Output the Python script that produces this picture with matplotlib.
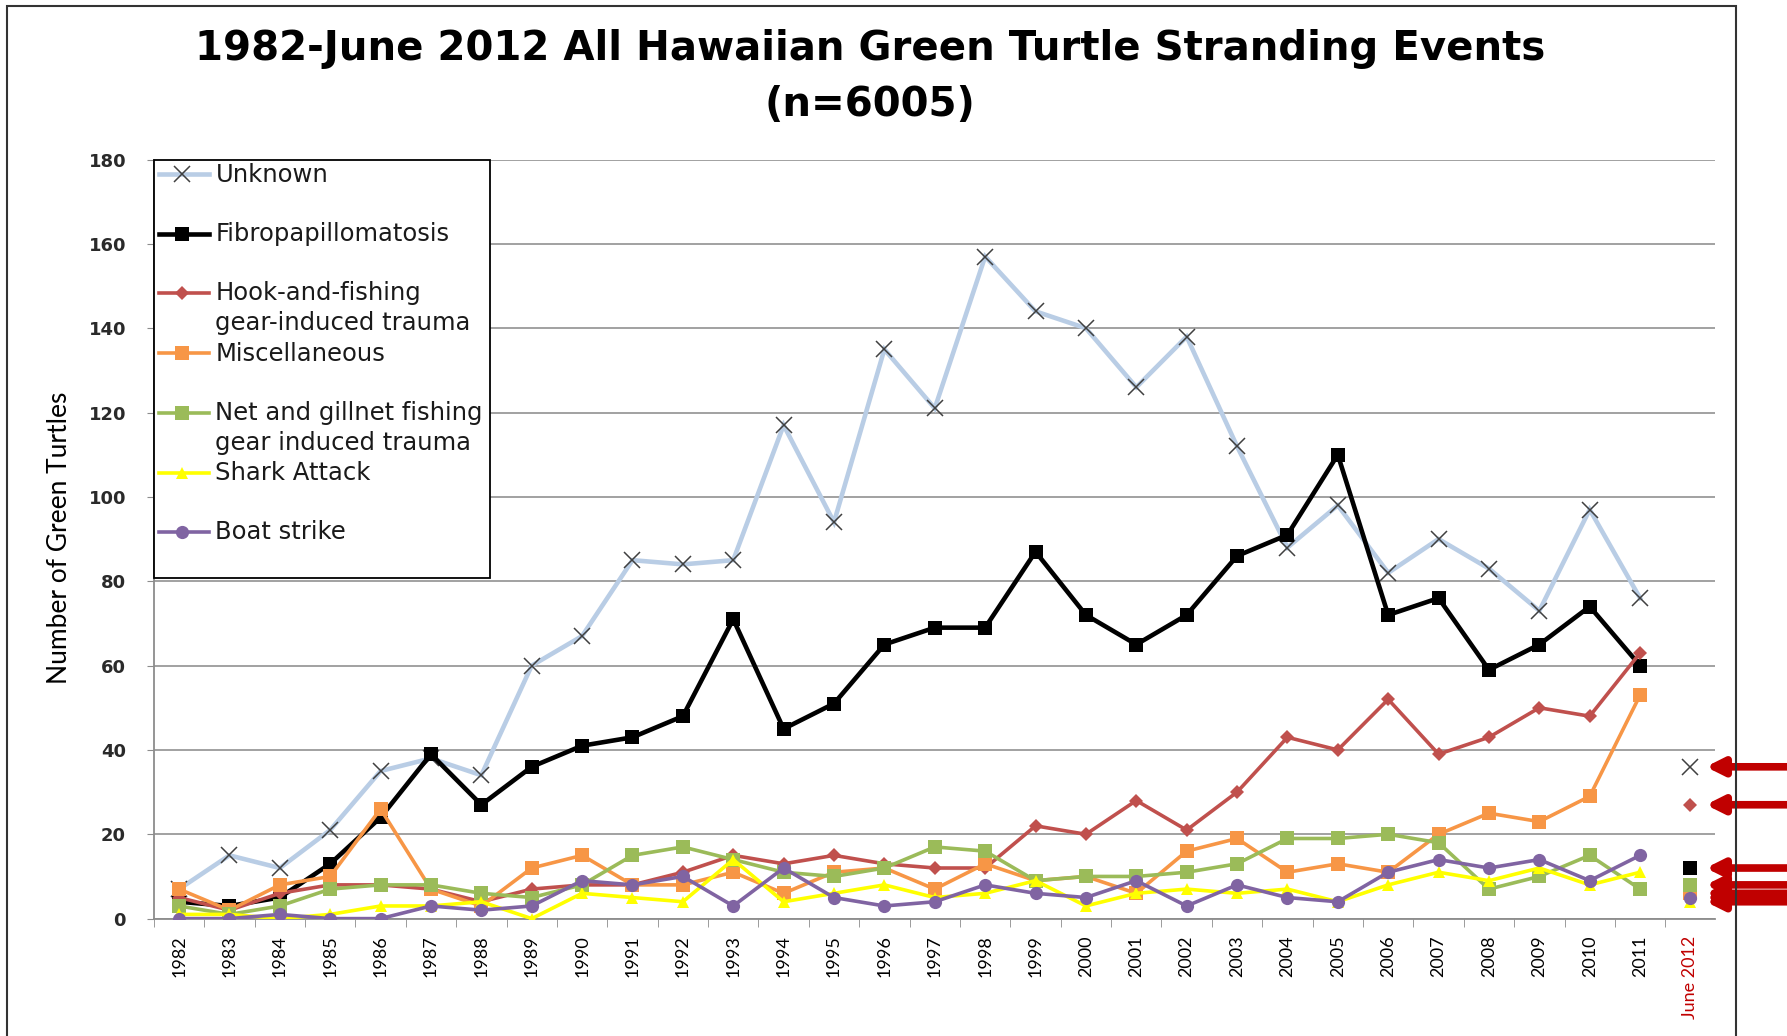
import matplotlib
matplotlib.use("Agg")
import matplotlib.pyplot as plt
from matplotlib.patches import Rectangle
from matplotlib.lines import Line2D

years = [str(y) for y in range(1982, 2012)] + ["June 2012"]

unknown = [7, 15, 12, 21, 35, 38, 34, 60, 67, 85, 84, 85, 117, 94, 135, 121, 157, 144,
           140, 126, 138, 112, 88, 98, 82, 90, 83, 73, 97, 76]
fibro = [4, 3, 5, 13, 24, 39, 27, 36, 41, 43, 48, 71, 45, 51, 65, 69, 69, 87,
         72, 65, 72, 86, 91, 110, 72, 76, 59, 65, 74, 60]
hook = [5, 2, 6, 8, 8, 7, 4, 7, 8, 8, 11, 15, 13, 15, 13, 12, 12, 22,
        20, 28, 21, 30, 43, 40, 52, 39, 43, 50, 48, 63]
misc = [7, 2, 8, 10, 26, 7, 3, 12, 15, 8, 8, 11, 6, 11, 12, 7, 13, 9,
        10, 6, 16, 19, 11, 13, 11, 20, 25, 23, 29, 53]
net = [3, 1, 3, 7, 8, 8, 6, 5, 8, 15, 17, 14, 11, 10, 12, 17, 16, 9,
       10, 10, 11, 13, 19, 19, 20, 18, 7, 10, 15, 7]
shark = [1, 1, 0, 1, 3, 3, 4, 0, 6, 5, 4, 14, 4, 6, 8, 5, 6, 9,
         3, 6, 7, 6, 7, 4, 8, 11, 9, 12, 8, 11]
boat = [0, 0, 1, 0, 0, 3, 2, 3, 9, 8, 10, 3, 12, 5, 3, 4, 8, 6,
        5, 9, 3, 8, 5, 4, 11, 14, 12, 14, 9, 15]

# June 2012 (partial year) values
june2012 = {"unknown": 36, "fibro": 12, "hook": 27, "misc": 6, "net": 8, "shark": 4, "boat": 5}

labels = ["Unknown", "Fibropapillomatosis", "Hook-and-fishing\ngear-induced trauma",
          "Miscellaneous", "Net and gillnet fishing\ngear induced trauma",
          "Shark Attack", "Boat strike"]

styles = {
    "unknown": dict(color="#B9CDE5", lw=3.3, marker="x", ms=11, mec="#404040", mfc="#404040", mew=1.1),
    "fibro": dict(color="#000000", lw=3.3, marker="s", ms=10.5, mec="#000000", mfc="#000000", mew=0),
    "hook": dict(color="#C0504D", lw=2.6, marker="D", ms=7.5, mec="#C0504D", mfc="#C0504D", mew=0),
    "misc": dict(color="#F79646", lw=2.6, marker="s", ms=9.5, mec="#F79646", mfc="#F79646", mew=0),
    "net": dict(color="#9BBB59", lw=2.6, marker="s", ms=9.5, mec="#9BBB59", mfc="#9BBB59", mew=0),
    "shark": dict(color="#FFFF00", lw=2.6, marker="^", ms=9, mec="#FFFF00", mfc="#FFFF00", mew=0),
    "boat": dict(color="#8064A2", lw=2.6, marker="o", ms=9.5, mec="#8064A2", mfc="#8064A2", mew=0),
}
series = {"unknown": unknown, "fibro": fibro, "hook": hook, "misc": misc,
          "net": net, "shark": shark, "boat": boat}
keys = ["unknown", "fibro", "hook", "misc", "net", "shark", "boat"]

fig = plt.figure(figsize=(17.87, 10.36), dpi=100)
ax = fig.add_axes([0.0861, 0.1133, 0.8737, 0.7327])

xs = list(range(30))
for i, k in enumerate(keys):
    st = styles[k]
    ax.plot(xs, series[k], color=st["color"], lw=st["lw"], marker=st["marker"],
            ms=st["ms"], mec=st["mec"], mfc=st["mfc"], mew=st["mew"], zorder=3 + i,
            solid_joinstyle="miter")
    ax.plot([30], [june2012[k]], linestyle="none", marker=st["marker"], ms=st["ms"],
            mec=st["mec"], mfc=st["mfc"], mew=st["mew"], zorder=3 + i)

ax.set_xlim(-0.45, 30.49)
ax.set_ylim(0, 180)
ax.set_yticks(range(0, 181, 20))
ax.yaxis.grid(True, color="#9A9A9A", lw=1.3)
ax.set_axisbelow(True)
for s in ["top", "right"]:
    ax.spines[s].set_visible(False)
ax.spines["left"].set_color("#8C8C8C")
ax.spines["left"].set_linewidth(1.3)
ax.spines["bottom"].set_color("#8C8C8C")
ax.spines["bottom"].set_linewidth(1.3)

ax.set_xticks(range(31))
ax.set_xticklabels(years, rotation=90, family="Lato", fontsize=13)
ax.set_xticks([i + 0.5 for i in range(-1, 30)], minor=True)
ax.tick_params(axis="x", which="major", length=0, pad=12)
ax.tick_params(axis="x", which="minor", length=6, color="#8C8C8C", direction="out")
ax.get_xticklabels()[-1].set_color("#C00000")
ax.tick_params(axis="y", length=5, color="#8C8C8C", pad=15)
for t in ax.get_yticklabels():
    t.set_family("DejaVu Sans")
    t.set_fontsize(13)
    t.set_fontweight("bold")
    t.set_color("#2a2a2a")

# Arrows pointing to June 2012 markers
for k in keys:
    ax.annotate("", xy=(0.994, june2012[k]), xycoords=("axes fraction", "data"),
                xytext=(1.05, june2012[k]), textcoords=("axes fraction", "data"),
                arrowprops=dict(arrowstyle="-|>", lw=5.5, color="#C00000",
                                mutation_scale=25, shrinkA=0, shrinkB=0),
                annotation_clip=False, zorder=20)

# Legend drawn in axes coordinates
ax.add_patch(Rectangle((0.0, 0.449), 0.2153, 0.551, transform=ax.transAxes,
                       facecolor="white", edgecolor="black", lw=1.3, zorder=30, clip_on=False))
entry_y = [0.9805, 0.9024, 0.8243, 0.7447, 0.6667, 0.5871, 0.509]
for k, lab, yy in zip(keys, labels, entry_y):
    st = styles[k]
    ax.add_line(Line2D([0.0036, 0.035], [yy, yy], transform=ax.transAxes, color=st["color"],
                       lw=st["lw"], zorder=31, clip_on=False))
    ax.add_line(Line2D([0.0182], [yy], transform=ax.transAxes, linestyle="none",
                       marker=st["marker"], ms=st["ms"], mec=st["mec"], mfc=st["mfc"],
                       mew=st["mew"], zorder=32, clip_on=False))
    ax.text(0.0394, yy + 0.0155, lab, transform=ax.transAxes, ha="left", va="top",
            fontsize=17.5, family="DejaVu Sans", color="#1a1a1a", zorder=33,
            linespacing=1.33)

# Title and axis label
fig.text(0.487, 0.9527, "1982-June 2012 All Hawaiian Green Turtle Stranding Events",
         ha="center", va="center", fontsize=29, fontweight="bold", family="DejaVu Sans")
fig.text(0.487, 0.899, "(n=6005)", ha="center", va="center", fontsize=29,
         fontweight="bold", family="DejaVu Sans")
fig.text(0.0332, 0.4807, "Number of Green Turtles", rotation=90, ha="center", va="center",
         fontsize=19, family="Lato")

# Outer frame
fig.patches.append(Rectangle((6 / 1568, -0.02), (1523 - 6) / 1568, 1 - 5 / 909 + 0.02,
                             transform=fig.transFigure, fill=False, edgecolor="#333333",
                             lw=1.5, figure=fig))

fig.savefig("out.png", dpi=100)
